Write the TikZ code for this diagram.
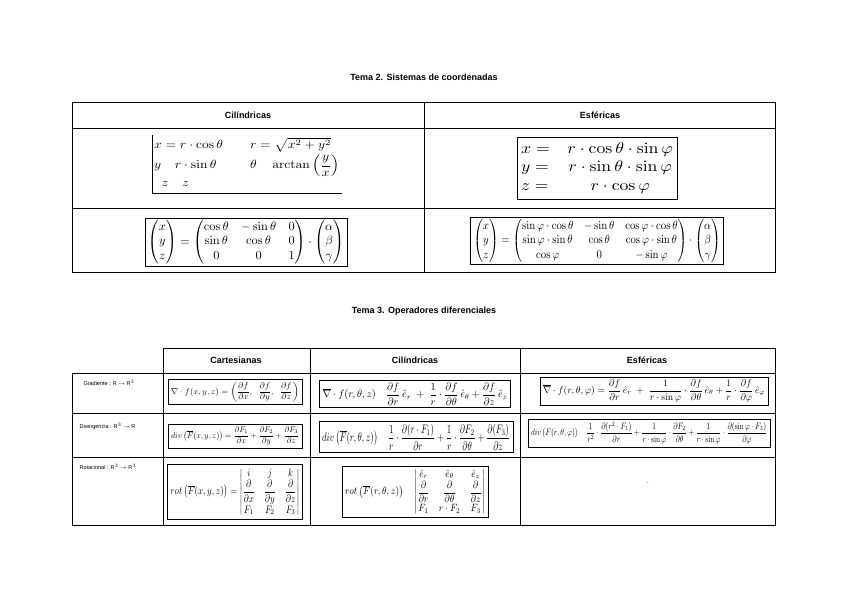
\documentclass[tikz,border=0pt]{standalone}
\usepackage{amsmath,graphicx}
\usepackage[no-math]{fontspec}
\setmainfont{Liberation Sans}
\newcommand{\fitbox}[3]{\resizebox*{#1}{#2}{$\displaystyle #3$}}
\begin{document}
\begin{tikzpicture}[x=1pt,y=-1pt,
  grid/.style={line width=0.8pt},
  hdr/.style={font=\bfseries\fontsize{9}{10}\selectfont},
  lbl/.style={font=\fontsize{5.5}{6}\selectfont,anchor=west},
  fbox/.style={draw,line width=0.9pt,inner sep=1.5pt},
  ttl/.style={font=\bfseries\fontsize{9}{10}\selectfont}]
\useasboundingbox (0,0) rectangle (848,600);
\fill[white] (0,0) rectangle (848,600);
\node[ttl] (t2) at (424,77) {Tema 2. Sistemas de coordenadas};
% top table
\draw[grid] (72,102) rectangle (775,272);
\draw[grid] (72,128) -- (775,128) (72,208) -- (775,208) (424,102) -- (424,272);
\node[hdr] (hc) at (248,115) {Cilíndricas};
\node[hdr] (he) at (600,115) {Esféricas};
% cyl coords
\node[anchor=north west,inner sep=0] (cc) at (154,137) {\fitbox{185pt}{54pt}{\begin{array}{@{}l@{\qquad}l@{}}
x=r\cdot\cos\theta & r=\sqrt{x^2+y^2}\\[2pt]
y\quad r\cdot\sin\theta & \theta\quad\arctan\left(\dfrac{y}{x}\right)\\
\;\;z\quad z &
\end{array}}};
\draw[line width=0.8pt] (152,135) -- (152,193) -- (342,193);
% esf coords
\node[fbox,minimum width=160pt,minimum height=62pt] (ec) at (597,168) {\fitbox{152pt}{56pt}{\begin{array}{@{}l@{\quad}c@{}}
x= & r\cdot\cos\theta\cdot\sin\varphi\\
y= & r\cdot\sin\theta\cdot\sin\varphi\\
z= & r\cdot\cos\varphi
\end{array}}};
% cyl matrix
\node[fbox,minimum width=202pt,minimum height=48pt] (cm) at (246,242) {\fitbox{196pt}{44pt}{\begin{pmatrix}x\\y\\z\end{pmatrix}=\begin{pmatrix}\cos\theta&-\sin\theta&0\\ \sin\theta&\cos\theta&0\\0&0&1\end{pmatrix}\cdot\begin{pmatrix}\alpha\\ \beta\\ \gamma\end{pmatrix}}};
% esf matrix
\node[fbox,line width=0.6pt,minimum width=253pt,minimum height=47pt] (em) at (597,241) {\fitbox{247pt}{43pt}{\begin{pmatrix}x\\y\\z\end{pmatrix}=\begin{pmatrix}\sin\varphi\cdot\cos\theta&-\sin\theta&\cos\varphi\cdot\cos\theta\\ \sin\varphi\cdot\sin\theta&\cos\theta&\cos\varphi\cdot\sin\theta\\ \cos\varphi&0&-\sin\varphi\end{pmatrix}\cdot\begin{pmatrix}\alpha\\ \beta\\ \gamma\end{pmatrix}}};
% second title
\node[ttl] (t3) at (424,311) {Tema 3. Operadores diferenciales};
% bottom table
\draw[grid] (163,348) rectangle (775,525);
\draw[grid] (163,373) -- (775,373) (72,413) -- (775,413) (72,457) -- (775,457) (72,525) -- (163,525);
\draw[grid] (72,373) -- (163,373);
\draw[grid] (72,373) -- (72,525);
\draw[grid] (310,348) -- (310,525) (520,348) -- (520,525);
\node[hdr] (hca) at (236,360) {Cartesianas};
\node[hdr] (hci) at (415,360) {Cilíndricas};
\node[hdr] (hes) at (647,360) {Esféricas};
\node[lbl] (lg) at (80,383) {Gradiente : R $\to$ R$^3$};
\node[lbl] (ld) at (76,426) {Divergencia : R$^3$ $\to$ R};
\node[lbl] (lr) at (76,467) {Rotacional : R$^3$ $\to$ R$^3$};
% gradient
\node[fbox,minimum width=134pt,minimum height=25pt] (g1) at (235,392) {\fitbox{128pt}{20pt}{\nabla\cdot f(x,y,z)=\left(\frac{\partial f}{\partial x},\;\;\frac{\partial f}{\partial y},\;\;\frac{\partial f}{\partial z}\right)}};
\node[fbox,minimum width=191pt,minimum height=27pt] (g2) at (415,394) {\fitbox{185pt}{22pt}{\overline{\nabla}\cdot f(r,\theta,z)\quad \frac{\partial f}{\partial r}\,\hat e_r\;+\;\frac{1}{r}\cdot\frac{\partial f}{\partial\theta}\,\hat e_\theta+\frac{\partial f}{\partial z}\,\hat e_z}};
\node[fbox,minimum width=228pt,minimum height=28pt] (g3) at (654,391) {\fitbox{222pt}{22pt}{\overline{\nabla}\cdot f(r,\theta,\varphi)=\frac{\partial f}{\partial r}\,\hat e_r\;+\;\frac{1}{r\cdot\sin\varphi}\cdot\frac{\partial f}{\partial\theta}\,\hat e_\theta+\frac{1}{r}\cdot\frac{\partial f}{\partial\varphi}\,\hat e_\varphi}};
% divergence
\node[fbox,minimum width=134pt,minimum height=24pt] (d1) at (235,436) {\fitbox{128pt}{19pt}{div\left(\overline{F}(x,y,z)\right)=\frac{\partial F_1}{\partial x}+\frac{\partial F_2}{\partial y}+\frac{\partial F_3}{\partial z}}};
\node[fbox,minimum width=194pt,minimum height=31pt] (d2) at (416,437) {\fitbox{188pt}{26pt}{div\left(\overline{F}(r,\theta,z)\right)\quad\frac{1}{r}\cdot\frac{\partial(r\cdot F_1)}{\partial r}+\frac{1}{r}\cdot\frac{\partial F_2}{\partial\theta}+\frac{\partial(F_3)}{\partial z}}};
\node[fbox,line width=0.6pt,minimum width=242pt,minimum height=28pt] (d3) at (649,433) {\fitbox{236pt}{22pt}{div\left(F(r,\theta,\varphi)\right)\quad\frac{1}{r^2}\cdot\frac{\partial(r^2\cdot F_1)}{\partial r}+\frac{1}{r\cdot\sin\varphi}\cdot\frac{\partial F_2}{\partial\theta}+\frac{1}{r\cdot\sin\varphi}\cdot\frac{\partial(\sin\varphi\cdot F_3)}{\partial\varphi}}};
% rotational
\node[fbox,minimum width=135pt,minimum height=55pt] (r1) at (235,492) {\fitbox{129pt}{50pt}{rot\left(\overline{F}(x,y,z)\right)=\begin{vmatrix}i&j&k\\ \dfrac{\partial}{\partial x}&\dfrac{\partial}{\partial y}&\dfrac{\partial}{\partial z}\\ F_1&F_2&F_3\end{vmatrix}}};
\node[fbox,line width=0.6pt,minimum width=146pt,minimum height=51pt] (r2) at (415,492) {\fitbox{140pt}{47pt}{rot\left(\overline{F}(r,\theta,z)\right)\quad\begin{vmatrix}\hat e_r&\hat e_\theta&\hat e_z\\ \dfrac{\partial}{\partial r}&\dfrac{\partial}{\partial\theta}&\dfrac{\partial}{\partial z}\\ F_1&r\cdot F_2&F_3\end{vmatrix}}};
\node[font=\fontsize{6}{6}\selectfont] (dot) at (648,483) {.};
\end{tikzpicture}
\end{document}
